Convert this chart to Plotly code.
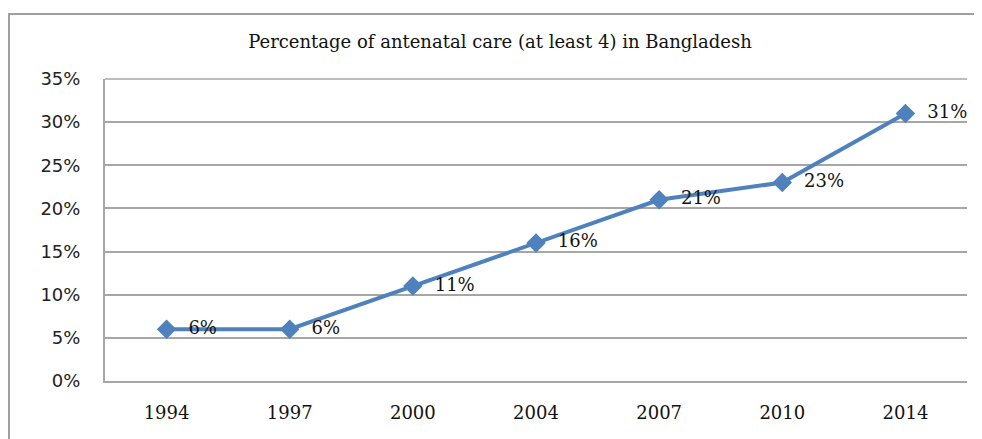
import plotly.graph_objects as go

years = ["1994", "1997", "2000", "2004", "2007", "2010", "2014"]
values = [6, 6, 11, 16, 21, 23, 31]
labels = ["6%", "6%", "11%", "16%", "21%", "23%", "31%"]
title_text = "Percentage of antenatal care (at least 4) in Bangladesh"

# page body adds an 8px offset; figure sized to fit the remaining window
OFF = 8
W, H = 982 - OFF, 439 - OFF
L, T = 105 - OFF, 79 - OFF
R = W - (967 - OFF)
B = H - (381 - OFF)
pw, ph = W - L - R, H - T - B

def px_x(x):
    return (x - OFF - L) / pw

def px_y(y):
    return (H - B - (y - OFF)) / ph

serif = "DejaVu Serif"
sans = "DejaVu Sans"
grid = "#A6A6A6"

frame_path = "M {a},{b} L {a},{c} L {d},{c}".format(
    a=px_x(9), b=px_y(460), c=px_y(14), d=px_x(1010))

fig = go.Figure()
fig.add_trace(go.Scatter(
    x=years, y=values, mode="lines+markers+text",
    text=labels, texttemplate="  %{text}", textposition="middle right",
    textfont=dict(family=serif, size=18, color="#111111"),
    line=dict(color="#4F81BD", width=4),
    marker=dict(symbol="diamond", size=15, color="#4F81BD"),
    cliponaxis=False, showlegend=False,
))

fig.update_layout(
    width=W, height=H,
    margin=dict(l=L, r=R, t=T, b=B),
    paper_bgcolor="white", plot_bgcolor="white",
    title=dict(text=title_text, x=(500 - OFF) / W, xref="container",
               xanchor="center",
               y=1 - (42 - OFF) / H, yanchor="middle",
               font=dict(family=serif, size=18, color="#111111")),
    xaxis=dict(type="category", range=[-0.5, 6.5], showgrid=False,
               showline=True, linecolor=grid, linewidth=2, ticks="",
               tickfont=dict(family=serif, size=18, color="#111111"),
               ticklabelstandoff=14),
    yaxis=dict(range=[0, 35], dtick=5, ticksuffix="%", showgrid=True,
               gridcolor=grid, gridwidth=1.5, showline=True,
               linecolor=grid, linewidth=2, zeroline=False, ticks="",
               tickfont=dict(family=sans, size=18, color="#222222"),
               ticklabelstandoff=19),
    shapes=[
        dict(type="line", xref="paper", yref="paper", x0=0, x1=1, y0=1, y1=1,
             line=dict(color=grid, width=1.5), layer="below"),
        dict(type="path", xref="paper", yref="paper", path=frame_path,
             line=dict(color="#A0A0A0", width=2), layer="below"),
    ],
)

fig.write_html("out.html")
